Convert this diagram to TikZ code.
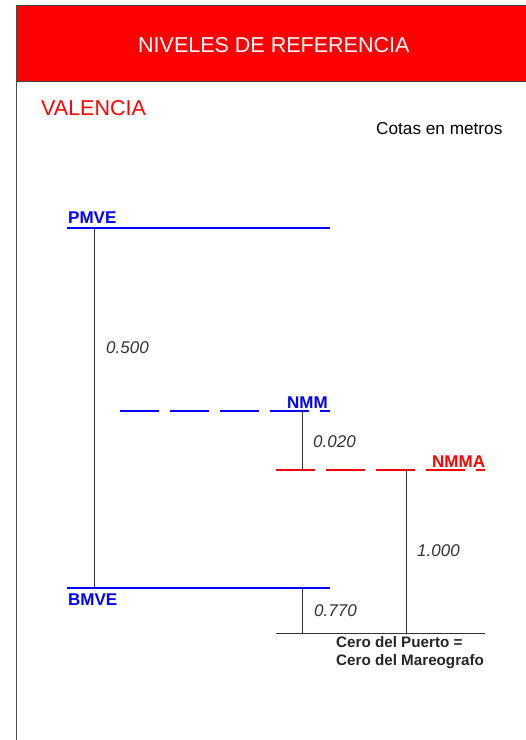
\documentclass[tikz,border=0pt]{standalone}
\usepackage{fontspec}
\setmainfont{Liberation Sans}
\begin{document}
\begin{tikzpicture}[x=1pt,y=-1pt,
  lbl/.style={inner sep=0pt,anchor=base west},
  lvlblue/.style={color=blue,line width=1.1pt},
  lvlred/.style={color=red,line width=1.1pt},
  dim/.style={draw=black!80,line width=1pt},
  dashlvl/.style={dash pattern=on 39pt off 11pt},
  num/.style={lbl,font=\fontsize{17}{20}\selectfont\itshape,text=black!80},
  tag/.style={lbl,font=\fontsize{17}{20}\selectfont\bfseries}]
\useasboundingbox (0,0) rectangle (526,740);
\fill[white] (0,0) rectangle (526,740);
% header
\fill[red] (17,6) rectangle (526,81);
\draw[black!75,line width=1.2pt] (16,5.5) -- (526,5.5);
\draw[black!75,line width=1pt] (16,81.5) -- (526,81.5);
\draw[black!70,line width=1.6pt] (16.5,5) -- (16.5,740);
\node[lbl,text=white,font=\fontsize{21.5}{24}\selectfont] (title) at (138,52) {NIVELES DE REFERENCIA};
\node[lbl,text=red,font=\fontsize{21.5}{24}\selectfont] (city) at (41,115) {VALENCIA};
\node[lbl,font=\fontsize{17.2}{20}\selectfont] (units) at (376,134) {Cotas en metros};
% level lines
\coordinate (pmveL) at (67,228); \coordinate (pmveR) at (330,228);
\coordinate (nmmL) at (120,411); \coordinate (nmmR) at (330,411);
\coordinate (nmmaL) at (276,470); \coordinate (nmmaR) at (485,470);
\coordinate (bmveL) at (67,588); \coordinate (bmveR) at (330,588);
\coordinate (ceroL) at (276,633); \coordinate (ceroR) at (485,633);
\draw[lvlblue] (pmveL) -- (pmveR);
\draw[lvlblue,dashlvl] (nmmL) -- (nmmR);
\draw[lvlred,dashlvl] (nmmaL) -- (nmmaR);
\draw[lvlblue] (bmveL) -- (bmveR);
\draw[dim] (ceroL) -- (ceroR);
% dimension lines
\coordinate (a1) at (94,228); \coordinate (a2) at (94,588);
\coordinate (b1) at (302,411); \coordinate (b2) at (302,470);
\coordinate (c1) at (406.5,470); \coordinate (c2) at (406.5,633);
\coordinate (d1) at (302,588); \coordinate (d2) at (302,633);
\draw[dim] (a1) -- (a2);
\draw[dim] (b1) -- (b2);
\draw[dim] (c1) -- (c2);
\draw[dim] (d1) -- (d2);
% labels
\node[tag,text=blue] (pmve) at (68,223) {PMVE};
\node[tag,text=blue] (nmm) at (287,408) {NMM};
\node[tag,text=red] (nmma) at (432,467) {NMMA};
\node[tag,text=blue] (bmve) at (68,605) {BMVE};
\node[num] (v1) at (106,353) {0.500};
\node[num] (v2) at (313,447) {0.020};
\node[num] (v3) at (417,556) {1.000};
\node[num] (v4) at (314,616) {0.770};
\node[lbl,font=\fontsize{15.2}{18.5}\selectfont\bfseries,text=black!85,align=left,anchor=north west] (cero) at (336,636) {Cero del Puerto =\\Cero del Mareografo};
\end{tikzpicture}
\end{document}
